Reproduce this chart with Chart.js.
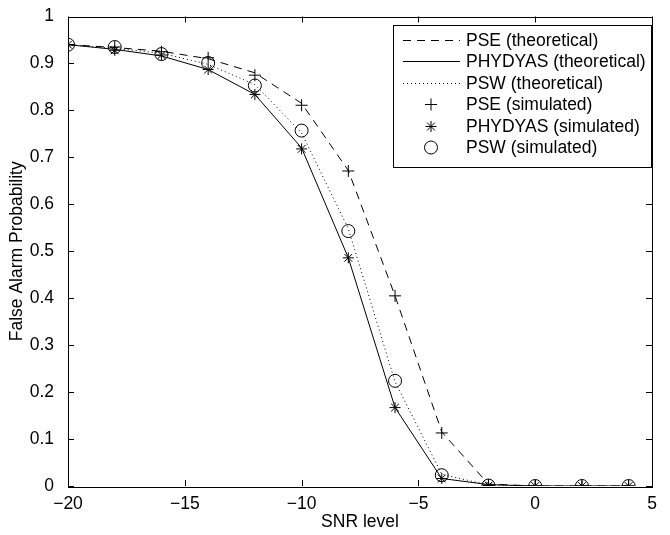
<!DOCTYPE html>
<html>
<head>
<meta charset="utf-8">
<script src="https://cdn.jsdelivr.net/npm/chart.js@4/dist/chart.umd.min.js"></script>
<style>
  html, body { margin: 0; padding: 0; background: #fff; }
  #wrap { width: 670px; height: 535px; }
</style>
</head>
<body>
<div id="wrap"><canvas id="myChart" width="670" height="535"></canvas></div>
<script>
// data
var snr = [-20, -18, -16, -14, -12, -10, -8, -6, -4, -2, 0, 2, 4];

var pseTheory = [0.940, 0.934, 0.926, 0.910, 0.880, 0.815, 0.672, 0.405, 0.115, 0.004, 0, 0, 0];
var phyTheory = [0.940, 0.930, 0.916, 0.887, 0.834, 0.720, 0.486, 0.167, 0.016, 0.003, 0, 0, 0];
var pswTheory = [0.940, 0.932, 0.922, 0.898, 0.855, 0.752, 0.548, 0.222, 0.025, 0.002, 0, 0, 0];

var pseSim = [0.940, 0.935, 0.925, 0.912, 0.875, 0.811, 0.671, 0.405, 0.113, 0.002, 0, 0, 0];
var phySim = [0.940, 0.928, 0.918, 0.887, 0.834, 0.718, 0.486, 0.167, 0.016, 0.001, 0, 0, 0];
var pswSim = [0.940, 0.935, 0.920, 0.901, 0.853, 0.757, 0.543, 0.224, 0.023, 0.001, 0, 0, 0];

var xTicks = [-20, -15, -10, -5, 0, 5];
var yTicks = [0, 0.1, 0.2, 0.3, 0.4, 0.5, 0.6, 0.7, 0.8, 0.9, 1];

var FONT = '"Liberation Sans", Arial, Helvetica, sans-serif';
var FSIZE = 17.5;

function pts(ys) {
  return snr.map(function (x, i) { return { x: x, y: ys[i] }; });
}

function lineSet(label, ys, dash) {
  return {
    label: label,
    data: pts(ys),
    borderColor: '#000',
    borderWidth: 1,
    borderDash: dash,
    pointRadius: 0,
    fill: false,
    tension: 0
  };
}

function markSet(label, ys, style, r) {
  return {
    label: label,
    data: pts(ys),
    showLine: false,
    borderColor: '#000',
    backgroundColor: 'rgba(0,0,0,0)',
    borderWidth: 1,
    pointStyle: style,
    pointRadius: r,
    pointHoverRadius: r
  };
}

var datasets = [
  lineSet('PSE (theoretical)', pseTheory, [8, 6]),
  lineSet('PHYDYAS (theoretical)', phyTheory, []),
  lineSet('PSW (theoretical)', pswTheory, [1, 3]),
  markSet('PSE (simulated)', pseSim, 'cross', 6),
  markSet('PHYDYAS (simulated)', phySim, 'star', 5.5),
  markSet('PSW (simulated)', pswSim, 'circle', 6.5)
];

// box + inward ticks like matlab
var boxTicks = {
  id: 'boxTicks',
  afterDatasetsDraw: function (chart) {
    var c = chart.ctx, a = chart.chartArea;
    var xs = chart.scales.x, ys = chart.scales.y;
    var len = 6;
    c.save();
    c.strokeStyle = '#000';
    c.lineWidth = 1;
    c.beginPath();
    xTicks.forEach(function (v) {
      var p = Math.round(xs.getPixelForValue(v)) + 0.5;
      c.moveTo(p, a.bottom); c.lineTo(p, a.bottom - len);
      c.moveTo(p, a.top); c.lineTo(p, a.top + len);
    });
    yTicks.forEach(function (v) {
      var p = Math.round(ys.getPixelForValue(v)) + 0.5;
      c.moveTo(a.left, p); c.lineTo(a.left + len, p);
      c.moveTo(a.right, p); c.lineTo(a.right - len, p);
    });
    c.stroke();
    c.strokeRect(Math.round(a.left) + 0.5, Math.round(a.top) + 0.5,
      Math.round(a.right - a.left), Math.round(a.bottom - a.top));
    c.restore();
  }
};

// legend box in the top right corner
var boxLegend = {
  id: 'boxLegend',
  afterDraw: function (chart) {
    var c = chart.ctx;
    var left = 393, top = 25, w = 258, h = 142;
    var rowH = 21.4, firstY = 40;
    c.save();
    c.fillStyle = '#fff';
    c.fillRect(left, top, w, h);
    c.strokeStyle = '#000';
    c.lineWidth = 1;
    c.strokeRect(left + 0.5, top + 0.5, w, h);
    c.font = FSIZE + 'px ' + FONT;
    c.textBaseline = 'middle';
    chart.data.datasets.forEach(function (ds, i) {
      var y = Math.round(firstY + i * rowH) + 0.5;
      c.strokeStyle = '#000';
      c.lineWidth = 1;
      if (i < 3) {
        c.setLineDash(ds.borderDash);
        c.beginPath();
        c.moveTo(403, y);
        c.lineTo(460, y);
        c.stroke();
        c.setLineDash([]);
      } else {
        c.fillStyle = '#fff';
        Chart.helpers.drawPoint(c, {
          pointStyle: ds.pointStyle,
          radius: ds.pointRadius,
          borderWidth: 1
        }, 431, y);
      }
      c.fillStyle = '#000';
      c.fillText(ds.label, 466, y + 1);
    });
    c.restore();
  }
};

function fmtX(v) {
  return v < 0 ? '\u2212' + Math.abs(v) : String(v);
}
function fmtY(v) {
  if (v === 0 || v === 1) return String(v);
  return v.toFixed(1);
}

var ctx = document.getElementById('myChart');
var myChart = new Chart(ctx, {
  type: 'line',
  data: { datasets: datasets },
  options: {
    responsive: false,
    animation: false,
    devicePixelRatio: 1,
    layout: { padding: { top: 15, right: 18, left: 0, bottom: 0 } },
    plugins: {
      legend: { display: false },
      tooltip: { enabled: false }
    },
    scales: {
      x: {
        type: 'linear',
        min: -20,
        max: 5,
        afterBuildTicks: function (s) { s.ticks = xTicks.map(function (v) { return { value: v }; }); },
        afterFit: function (s) { s.height = 49; },
        grid: { display: false },
        border: { display: false },
        ticks: {
          color: '#000',
          font: { family: FONT, size: FSIZE },
          padding: 0,
          maxRotation: 0,
          callback: fmtX
        },
        title: {
          display: true,
          text: 'SNR level',
          color: '#000',
          font: { family: FONT, size: FSIZE },
          padding: { top: 0, bottom: 2 }
        }
      },
      y: {
        type: 'linear',
        min: 0,
        max: 1,
        afterBuildTicks: function (s) { s.ticks = yTicks.map(function (v) { return { value: v }; }); },
        afterFit: function (s) { s.width = 68; },
        grid: { display: false },
        border: { display: false },
        ticks: {
          color: '#000',
          font: { family: FONT, size: FSIZE },
          padding: 6,
          callback: fmtY
        },
        title: {
          display: true,
          text: 'False Alarm Probability',
          color: '#000',
          font: { family: FONT, size: FSIZE },
          padding: { top: 7, bottom: 0 }
        }
      }
    }
  },
  plugins: [boxTicks, boxLegend]
});
</script>
</body>
</html>
